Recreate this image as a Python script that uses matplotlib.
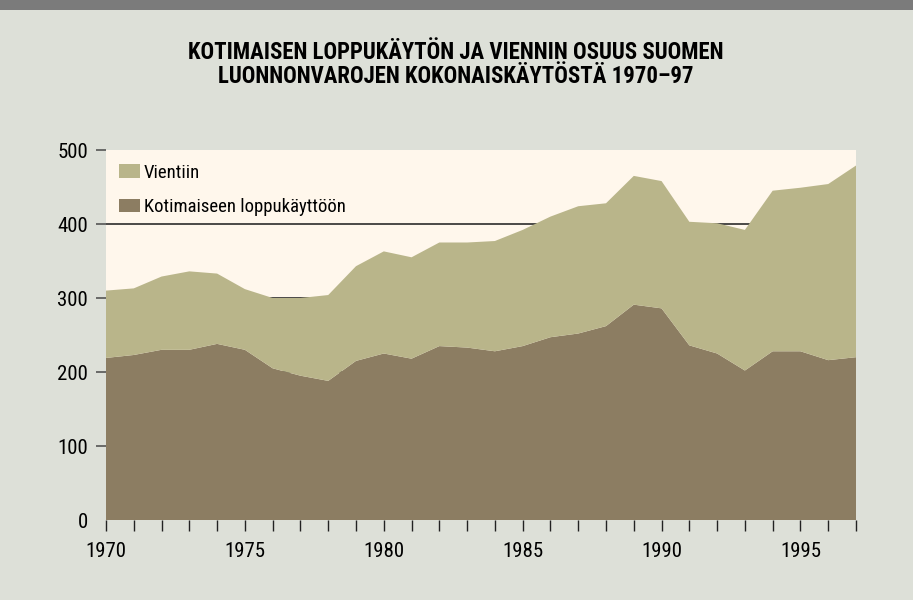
import numpy as np
import matplotlib.pyplot as plt
from matplotlib.patches import Rectangle

# ---------------------------------------------------- data ----------------------------------------------------
years = np.arange(1970, 1998)
kotimainen = [219, 223, 230, 230, 238, 230, 205, 195, 188, 215, 225, 218, 235, 233,
              228, 235, 247, 252, 262, 291, 286, 236, 225, 202, 228, 228, 216, 220]
yhteensa = [310, 313, 329, 336, 333, 312, 300, 300, 304, 343, 363, 355, 375, 375,
            377, 392, 410, 424, 428, 465, 458, 403, 401, 392, 445, 449, 454, 479]
vienti = [t - k for t, k in zip(yhteensa, kotimainen)]

labels = ["Kotimaiseen loppukäyttöön", "Vientiin"]
title1 = "KOTIMAISEN LOPPUKÄYTÖN JA VIENNIN OSUUS SUOMEN"
title2 = "LUONNONVAROJEN KOKONAISKÄYTÖSTÄ 1970–97"
yticks = [0, 100, 200, 300, 400, 500]
xticks_major = [1970, 1975, 1980, 1985, 1990, 1995]

plt.rcParams['font.family'] = ['Roboto Condensed', 'DejaVu Sans']

bg = '#dde0d8'
fig = plt.figure(figsize=(9.13, 6), dpi=100, facecolor=bg)

# grey strip along the top
fig.add_artist(Rectangle((0, 1 - 10/600), 1, 10/600, transform=fig.transFigure,
                         facecolor='#7b7b7b', edgecolor='none'))

ax = fig.add_axes([106/913, 1 - 520/600, 750/913, 370/600])
ax.set_facecolor('#fff7ec')

ax.stackplot(years, kotimainen, vienti, labels=labels,
             colors=['#8c7d62', '#b9b58a'], zorder=2)

# grid lines under the areas
for v in yticks[1:-1]:
    ax.axhline(v, color='#1a1a1a', lw=1.1, zorder=1)

ax.set_xlim(1970, 1997)
ax.set_ylim(0, 500)
for s in ax.spines.values():
    s.set_visible(False)

ax.set_yticks(yticks)
ax.tick_params(axis='y', length=7.2, width=1.2, color='#555555', pad=5.8, labelsize=15)
ax.yaxis.get_major_ticks()[0].tick1line.set_visible(False)

ax.set_xticks(years, minor=True)
ax.set_xticks(xticks_major)
ax.tick_params(axis='x', which='both', length=8, width=1, color='#222222',
               direction='out', pad=8, labelsize=15)

h, l = ax.get_legend_handles_labels()
ax.legend(h[::-1], l[::-1], loc='upper left', bbox_to_anchor=(0.0173, 0.9635),
          frameon=False, fontsize=13.5, handlelength=1.12, handleheight=0.7,
          handletextpad=0.2, labelspacing=0.88, borderaxespad=0, borderpad=0)

fig.text(456/913, 1 - 52.5/600, title1, ha='center', va='center',
         fontsize=16.4, fontweight='bold')
fig.text(456/913, 1 - 76.5/600, title2, ha='center', va='center',
         fontsize=16.4, fontweight='bold')

plt.savefig('out.png', dpi=100, facecolor=bg)
